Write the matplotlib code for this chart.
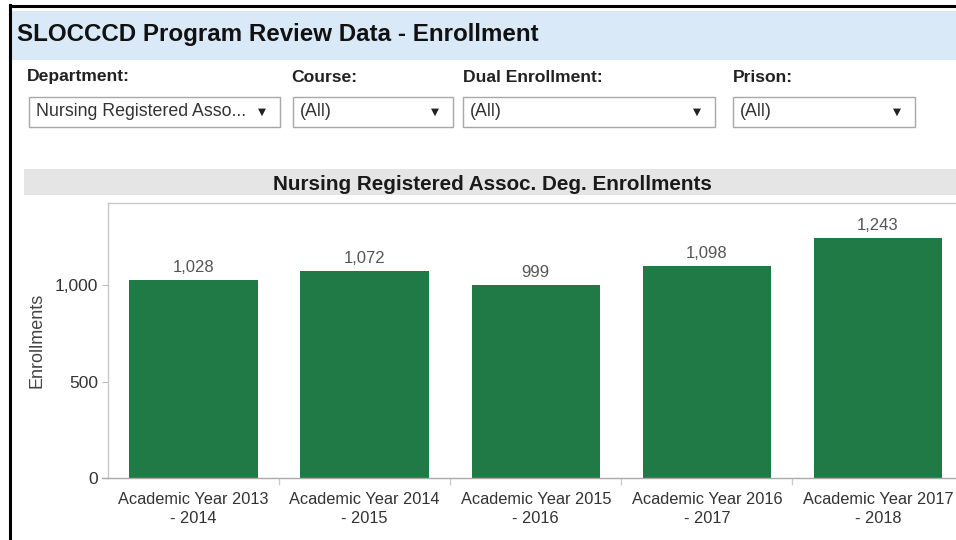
import matplotlib
matplotlib.use('Agg')
from matplotlib import pyplot as plt
from matplotlib.patches import Rectangle
from matplotlib.lines import Line2D
import numpy as np

plt.rcParams['font.family'] = ['Liberation Sans', 'DejaVu Sans']

# data
years = ['Academic Year 2013\n- 2014', 'Academic Year 2014\n- 2015', 'Academic Year 2015\n- 2016',
         'Academic Year 2016\n- 2017', 'Academic Year 2017\n- 2018']
enrollments = [1028, 1072, 999, 1098, 1243]

filter_labels = ['Department:', 'Course:', 'Dual Enrollment:', 'Prison:']
filter_values = ['Nursing Registered Asso...', '(All)', '(All)', '(All)']

page_title = 'SLOCCCD Program Review Data - Enrollment'
chart_title = 'Nursing Registered Assoc. Deg. Enrollments'

W, H = 956, 540
fig = plt.figure(figsize=(W / 100, H / 100), dpi=100)
fig.patch.set_facecolor('white')


def fx(px):
	return px / W


def fy(py):
	return 1 - py / H


def box(x0, y0, x1, y1, **kw):
	# rectangle in pixel coords (top-left origin)
	r = Rectangle((fx(x0), fy(y1)), fx(x1) - fx(x0), fy(y0) - fy(y1), transform=fig.transFigure, **kw)
	fig.patches.append(r)


# outer black frame (left + top)
fig.lines.append(Line2D([fx(10), fx(10)], [fy(5), fy(540)], transform=fig.transFigure, color='black', lw=2.2))
fig.lines.append(Line2D([fx(10), fx(956)], [fy(6), fy(6)], transform=fig.transFigure, color='black', lw=2.2))

# page title band
box(12, 11, 956, 60, facecolor='#d9e9f7', edgecolor='none')
fig.text(fx(17), fy(34), page_title, fontsize=17.4, fontweight='bold', va='center', ha='left', color='#111111')

# filter row
label_x = [27, 291, 463, 733]
box_x = [(29, 280), (293, 453), (463, 715), (733, 915)]
for lab, val, lx, (b0, b1) in zip(filter_labels, filter_values, label_x, box_x):
	fig.text(fx(lx), fy(77), lab, fontsize=12.6, fontweight='bold', va='center', ha='left', color='#222222')
	box(b0, 97, b1, 127, facecolor='white', edgecolor='#a8a8a8', lw=1)
	fig.text(fx(b0 + 7), fy(112), val, fontsize=12.8, va='center', ha='left', color='#333333')
	fig.text(fx(b1 - 18), fy(112), '\u25bc', fontsize=7.5, va='center', ha='center', color='#222222',
		family='DejaVu Sans')

# chart title band
box(24, 169, 956, 195, facecolor='#e5e5e5', edgecolor='none')
fig.text(fx(492), fy(184), chart_title, fontsize=14.9, fontweight='bold', va='center', ha='center', color='#1a1a1a')

# bar chart
ax = fig.add_axes([fx(108), fy(478), fx(956) - fx(108), fy(203) - fy(478)])
x = np.arange(len(years))
bars = ax.bar(x, enrollments, width=0.75, color='#1f7a46', zorder=2)
for xi, v in zip(x, enrollments):
	ax.text(xi, v + 25, '{:,}'.format(v), ha='center', va='bottom', fontsize=12, color='#555555')

ax.set_xlim(-0.5, 4.456)
ax.set_ylim(0, 1425)
ax.set_yticks([0, 500, 1000])
ax.set_yticklabels(['0', '500', '1,000'])
ax.set_xticks(x)
ax.set_xticklabels(years, fontsize=11.8, color='#333333', linespacing=1.35)
ax.set_xticks([0.5, 1.5, 2.5, 3.5], minor=True)
ax.tick_params(axis='x', which='major', length=0, pad=10)
ax.tick_params(axis='x', which='minor', length=5, color='#cccccc', width=1)
ax.tick_params(axis='y', length=4, color='#bbbbbb', labelsize=12.5, labelcolor='#333333', pad=3)
ax.set_ylabel('Enrollments', fontsize=13, color='#444444', labelpad=7)

for s in ['left', 'top']:
	ax.spines[s].set_color('#c8c8c8')
	ax.spines[s].set_linewidth(1)
ax.spines['right'].set_visible(False)
ax.spines['bottom'].set_color('#aaaaaa')
ax.spines['bottom'].set_linewidth(1)
# bottom axis line runs a bit left of the plot
fig.lines.append(Line2D([fx(102), fx(108)], [fy(478), fy(478)], transform=fig.transFigure, color='#aaaaaa', lw=1))

fig.savefig('out.png', dpi=100)
